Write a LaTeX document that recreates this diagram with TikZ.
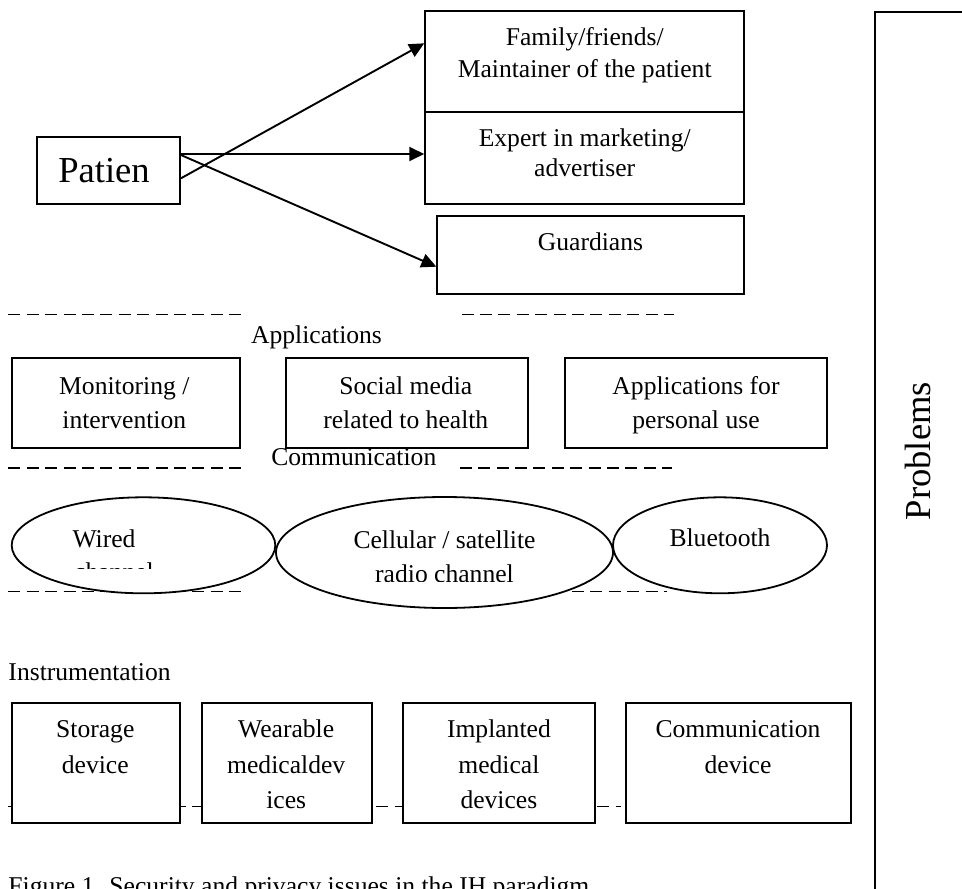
\documentclass[tikz,border=0pt]{standalone}
\usepackage{fontspec}
\setmainfont{Liberation Serif}
\usetikzlibrary{arrows.meta,shapes.geometric}
\tikzset{
  box/.style={draw, line width=1.9pt, fill=white, inner sep=0pt},
  oval/.style={ellipse, draw, line width=1.8pt, fill=white, inner sep=0pt},
  txt/.style={inner sep=0pt, anchor=base, font=\fontsize{25.6}{30}\selectfont},
  bigtxt/.style={inner sep=0pt, anchor=base, font=\fontsize{36.6}{42}\selectfont},
  sep/.style={line width=1.3pt, dash pattern=on 12pt off 6.4pt},
  arr/.style={line width=1.9pt, -{Triangle[length=15pt,width=14pt]}}
}
\begin{document}
\begin{tikzpicture}[x=1pt,y=-1pt]
\useasboundingbox (0,0) rectangle (962,889);
\fill[white] (0,0) rectangle (962,889);
\clip (0,0) rectangle (962,889);

% dashed separators
\draw[sep] (8.3,314.5) -- (240.7,314.5);
\draw[sep] (461.5,314.5) -- (674,314.5);
\draw[sep] (8.3,468) -- (240.7,468);
\draw[sep] (459.8,468) -- (672.3,468);
\draw[sep] (8.3,591.7) -- (240.7,591.7);
\draw[sep] (461.5,591.7) -- (667,591.7);
\draw[sep] (8.3,806.7) -- (620.5,806.7);

% top boxes
\node[box, minimum width=319pt, minimum height=101pt] (fam) at (584.7,61.2) {};
\node[box, minimum width=319pt, minimum height=92.3pt] (exp) at (584.7,157.85) {};
\node[box, minimum width=306.9pt, minimum height=78.3pt] (guard) at (590.75,254.85) {};
\node[box, minimum width=142.7pt, minimum height=66.7pt] (pat) at (108.65,170.65) {};

\node[txt] (famt1) at (584.7,45) {Family/friends/};
\node[txt] (famt2) at (584.7,77.3) {Maintainer of the patient};
\node[txt] (expt1) at (584.7,146.7) {Expert in marketing/};
\node[txt] (expt2) at (584.7,176.7) {advertiser};
\node[txt] (guardt) at (590.5,250) {Guardians};
\node[bigtxt] (patt) at (104,182.7) {Patien};

% arrows
\draw[arr] ([yshift=-7.65pt]pat.east) -- ([yshift=17.9pt]fam.west);
\draw[arr] ([yshift=16.65pt]pat.east) -- ([yshift=3.85pt]exp.west);
\draw[arr] ([yshift=15.65pt]pat.east) -- ([yshift=-11.85pt]guard.west);

% applications
\node[txt] (applab) at (316.5,343) {Applications};
\node[box, minimum width=228.3pt, minimum height=90pt] (mon) at (125.85,403.3) {};
\node[box, minimum width=242.2pt, minimum height=90pt] (soc) at (407.1,403.3) {};
\node[box, minimum width=261.6pt, minimum height=90pt] (app) at (696,403.3) {};
\node[txt] (mont1) at (124.3,394) {Monitoring /};
\node[txt] (mont2) at (124.3,428) {intervention};
\node[txt] (soct1) at (405.8,394) {Social media};
\node[txt] (soct2) at (405.8,428) {related to health};
\node[txt] (appt1) at (696,394) {Applications for};
\node[txt] (appt2) at (696,428) {personal use};

% communication
\node[txt] (commlab) at (353.8,465) {Communication};
\node[oval, minimum width=263.6pt, minimum height=96pt] (wired) at (143.5,545.3) {};
\node[oval, minimum width=337pt, minimum height=111pt] (cell) at (444.5,552.5) {};
\node[oval, minimum width=214pt, minimum height=96pt] (blue) at (720,545.3) {};
\node[txt] (wiredt1) at (104,547) {Wired};
\begin{scope}
  \clip (0,0) rectangle (962,568);
  \node[txt] (wiredt2) at (114,580) {channel};
\end{scope}
\node[txt] (cellt1) at (444.5,548) {Cellular / satellite};
\begin{scope}
  \clip (0,0) rectangle (962,581);
  \node[txt] (cellt2) at (444.5,582.5) {radio channel};
\end{scope}
\node[txt] (bluet) at (720,546.7) {Bluetooth};

% instrumentation
\node[txt, anchor=base west] (instr) at (8.3,680) {Instrumentation};
\node[box, minimum width=168.3pt, minimum height=120pt] (stor) at (95.85,763.3) {};
\node[box, minimum width=170.6pt, minimum height=120pt] (wear) at (287,763.3) {};
\node[box, minimum width=191.3pt, minimum height=120pt] (impl) at (498.95,763.3) {};
\node[box, minimum width=225.3pt, minimum height=120pt] (cdev) at (738.35,763.3) {};
\node[txt] (stort1) at (95.3,737.3) {Storage};
\node[txt] (stort2) at (95.3,773.3) {device};
\node[txt] (weart1) at (286.2,737.3) {Wearable};
\node[txt] (weart2) at (286.2,773.3) {medicaldev};
\node[txt] (weart3) at (286.2,808.7) {ices};
\node[txt] (implt1) at (498.9,737.3) {Implanted};
\node[txt] (implt2) at (498.9,773.3) {medical};
\node[txt] (implt3) at (498.9,808.7) {devices};
\node[txt] (cdevt1) at (738,737.3) {Communication};
\node[txt] (cdevt2) at (738,773.3) {device};

% problems
\node[box, minimum width=140pt, minimum height=1000pt, anchor=north west] (prob) at (874,10.7) {};
\node[bigtxt, rotate=90] (probt) at (930,451) {Problems};

% caption (cut at the lower edge, as in the reference)
\node[txt, anchor=base west] (cap) at (8.3,894) {Figure 1. Security and privacy issues in the IH paradigm};
\end{tikzpicture}
\end{document}
